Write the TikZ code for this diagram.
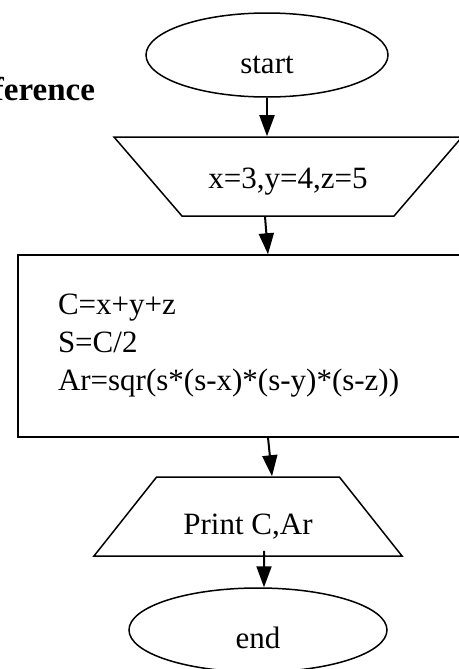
\documentclass[tikz,border=0pt]{standalone}
\usepackage{fontspec}
\setmainfont{Liberation Serif}
\usetikzlibrary{positioning,arrows.meta,calc,shapes.geometric}

\begin{document}
\begin{tikzpicture}[x=0.5pt, y=-0.5pt,
    txt/.style={font=\fontsize{15.5}{19}\selectfont},
    terminal/.style={ellipse, draw, line width=0.75pt, inner sep=0pt, minimum height=42pt, text height=18pt, text depth=0pt, txt},
    io/.style={trapezium, draw, line width=0.75pt, inner xsep=0pt, trapezium stretches body=true, text depth=0pt, txt},
    process/.style={rectangle, draw, line width=0.75pt, txt},
    flow/.style={-{Triangle[length=10.5pt,width=7.5pt]}, line width=1pt}]
    \useasboundingbox (0,0) rectangle (459,669);
    \node[anchor=base east, font=\fontsize{16.5}{20}\selectfont\bfseries] (title) at (102,100) {Reference};
    \node[terminal, minimum width=121pt] (start) at (267,55) {start};
    \node[io, shape border rotate=180, trapezium left angle=49.3, trapezium right angle=49.3, minimum width=174pt, text height=11.5pt, inner ysep=14pt] (input) at (288,176.5) {x=3,y=4,z=5};
    \node[process, text width=210pt, align=left, inner xsep=20pt, minimum height=91pt] (compute) at (268,346) {C=x+y+z\\S=C/2\\Ar=sqr(s*(s-x)*(s-y)*(s-z))};
    \node[io, trapezium left angle=51.6, trapezium right angle=51.6, minimum width=154pt, text height=17.5pt, inner ysep=11pt] (output) at (248,516.5) {Print C,Ar};
    \node[terminal, minimum width=129pt] (stop) at (258,630) {end};
    \draw[flow] (start.south) -- (start.south |- input.north);
    \draw[flow] ($(input.south)+(-23,0)$) -- (compute.north);
    \draw[flow] (compute.south) -- ($(output.north)+(24,0)$);
    \draw[flow] ($(output.south)+(16,-6)$) -- ($(stop.north)+(6,0)$);
\end{tikzpicture}
\end{document}
